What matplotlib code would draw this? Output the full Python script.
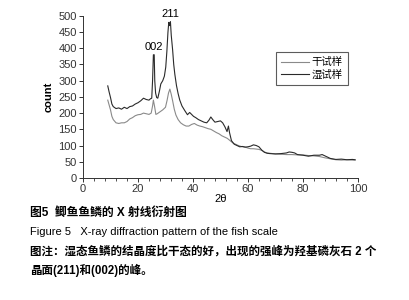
import matplotlib as mpl
mpl.use('Agg')
import matplotlib.pyplot as plt
from matplotlib.ticker import MultipleLocator

plt.rcParams['font.family'] = ['Liberation Sans', 'Noto Sans CJK SC']

# wet sample (upper, dark curve)
wet_x = [9, 9.5, 10, 10.5, 11, 12, 13, 14, 15, 16, 17, 18, 19, 20, 21, 22, 23, 24, 24.5, 25,
         25.3, 25.6, 25.9, 26.1, 26.4, 26.8, 27.2, 27.8, 28.3, 29, 29.6, 30.1, 30.5, 30.9, 31.2,
         31.5, 31.8, 32.1, 32.6, 33.0, 33.4, 34, 34.6, 35.2, 36, 37, 38, 38.8, 39.5, 40.2, 41,
         42, 43, 44, 45, 45.8, 46.5, 47.2, 48, 49, 50, 50.8, 51.6, 52.4, 52.9, 53.3, 54, 55, 56,
         57, 58, 59, 60, 61, 62, 63, 64, 65, 66, 67, 68, 70, 72, 74, 75, 76, 77, 78, 80, 82, 84,
         86, 87, 88, 90, 92, 94, 96, 98, 99]
wet_y = [284, 265, 248, 228, 220, 214, 216, 212, 218, 214, 220, 222, 228, 232, 238, 246, 242, 240, 244, 246,
         300, 380, 380, 300, 262, 248, 246, 268, 290, 300, 314, 342, 390, 450, 480,
         470, 482, 440, 395, 350, 320, 285, 260, 240, 222, 208, 195, 202, 196, 190, 186,
         180, 176, 172, 170, 178, 188, 180, 172, 174, 176, 170, 158, 143, 160, 140, 115, 104, 100,
         96, 97, 95, 96, 98, 102, 100, 96, 86, 79, 76, 75, 74, 75, 77, 80, 79, 77, 72, 70, 67, 70,
         70, 72, 68, 60, 57, 58, 56, 57, 56]

# dry sample (lower, grey curve)
dry_x = [9, 9.5, 10, 10.5, 11, 12, 13, 14, 15, 16, 17, 18, 19, 20, 21, 22, 23, 24, 24.8, 25.3,
         25.6, 26, 26.5, 27, 28, 29, 30, 30.6, 31.1, 31.6, 32.1, 32.6, 33.2, 33.8, 34.6, 35.5,
         36.5, 37.5, 38.5, 39.5, 40.5, 41.5, 42.5, 43.5, 44.5, 45.5, 46.5, 47.5, 48.5, 49.5,
         50.5, 51.5, 52.5, 53.5, 54.5, 55.5, 56.5, 57.5, 59, 60, 61, 62, 63, 64, 65, 66, 67, 68,
         70, 72, 74, 76, 78, 80, 82, 84, 86, 88, 90, 92, 94, 96, 98, 99]
dry_y = [240, 225, 210, 190, 180, 170, 168, 170, 170, 174, 182, 186, 192, 195, 196, 200, 198, 196, 200, 222,
         240, 222, 196, 198, 204, 210, 218, 240, 262, 274, 258, 238, 212, 194, 180, 170,
         164, 160, 160, 165, 168, 163, 160, 158, 155, 152, 150, 145, 140, 136,
         130, 126, 122, 115, 108, 104, 100, 97, 95, 92, 90, 90, 89, 88, 85, 80, 77, 76,
         74, 73, 72, 72, 71, 71, 69, 68, 66, 62, 59, 56, 55, 56, 55, 55]

peak_labels = ['002', '211']
peak_x = [25.7, 31.6]
peak_y = [380, 482]

fig = plt.figure(figsize=(4.09, 3.0), dpi=100)
ax = fig.add_axes([0.203, 0.407, 0.672, 0.540])

ax.plot(dry_x, dry_y, color='#8a8a8a', lw=0.8, label='干试样')
ax.plot(wet_x, wet_y, color='#2a2a2a', lw=0.8, label='湿试样')

for lab, px, py in zip(peak_labels, peak_x, peak_y):
    ax.annotate(lab, (px, py), xytext=(0, 2), textcoords='offset points',
                ha='center', va='bottom', fontsize=8)

ax.set_xlim(0, 100)
ax.set_ylim(0, 500)
ax.xaxis.set_major_locator(MultipleLocator(20))
ax.xaxis.set_minor_locator(MultipleLocator(4))
ax.yaxis.set_major_locator(MultipleLocator(50))
ax.tick_params(labelsize=8, length=3, width=0.7, colors='#333333', pad=1.5)
ax.tick_params(which='minor', length=2, width=0.6, colors='#333333')
for s in ['top', 'right']:
    ax.spines[s].set_visible(False)
for s in ['left', 'bottom']:
    ax.spines[s].set_linewidth(0.7)
    ax.spines[s].set_color('#333333')

ax.set_xlabel('2θ', fontsize=8, labelpad=0)
ax.set_ylabel('count', fontsize=8, fontweight='bold', labelpad=3)

leg = ax.legend(loc='upper left', bbox_to_anchor=(0.684, 0.809), fontsize=7.5,
                frameon=True, fancybox=False, handlelength=2.6, borderpad=0.5,
                labelspacing=0.25, handletextpad=0.3)
leg.get_frame().set_edgecolor('#333333')
leg.get_frame().set_linewidth(0.8)

fig.text(0.073, 0.29, '图5  鲫鱼鱼鳞的 X 射线衍射图', fontsize=8.5, fontweight='bold', va='center')
fig.text(0.073, 0.227, 'Figure 5   X-ray diffraction pattern of the fish scale', fontsize=8, va='center')
fig.text(0.073, 0.16, '图注：湿态鱼鳞的结晶度比干态的好，出现的强峰为羟基磷灰石 2 个',
         fontsize=8.3, fontweight='bold', va='center')
fig.text(0.073, 0.10, '晶面(211)和(002)的峰。', fontsize=8.3, fontweight='bold', va='center')

fig.savefig('out.png', dpi=100)
